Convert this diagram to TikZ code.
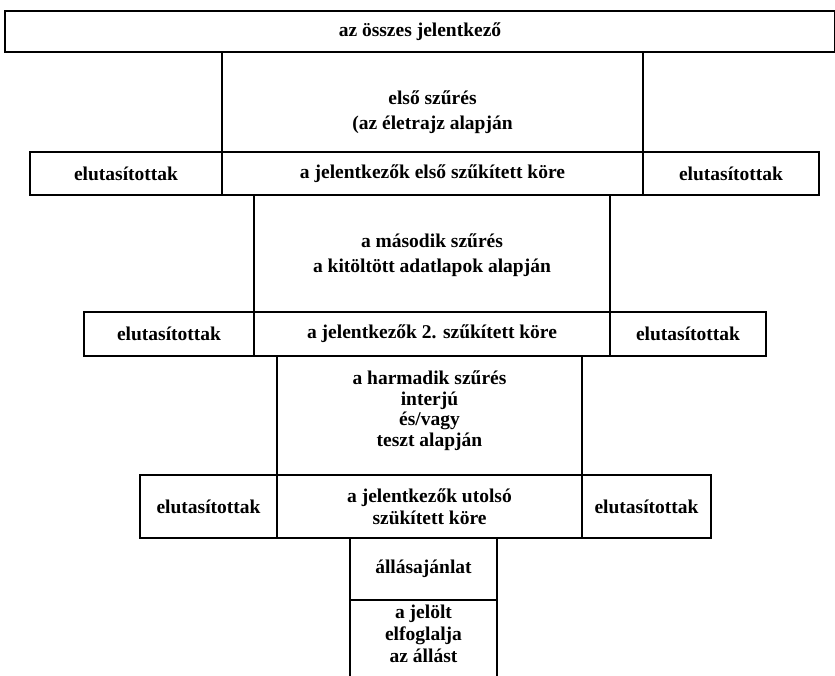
\documentclass[tikz,border=0pt]{standalone}
\usepackage{fontspec}
\setmainfont{Liberation Serif}
\begin{document}
\begin{tikzpicture}[x=1pt,y=-1pt,
  every node/.style={font=\bfseries\fontsize{19.5}{22}\selectfont, align=center, inner sep=0pt, outer sep=0pt},
  boxx/.style={draw, line width=1.3pt, rectangle},
  wide/.style={font=\bfseries\fontsize{19.5}{25}\selectfont},
  tight/.style={font=\bfseries\fontsize{19.5}{20.5}\selectfont},
  lin/.style={line width=1.1pt}]
\useasboundingbox (0,0) rectangle (835,676);
\coordinate (bot) at (0,676);
% top
\node[boxx, minimum width=830, minimum height=41] (all) at (420,31.5) {az összes jelentkező};
% row 1
\node[boxx, minimum width=192, minimum height=43] (r1l) at (126,173.5) {elutasítottak};
\node[boxx, minimum width=421, minimum height=43] (r1c) at (432.5,173.5) {a jelentkezők első szűkített köre};
\node[boxx, minimum width=176, minimum height=43] (r1r) at (731,173.5) {elutasítottak};
\node[wide] (f1) at (432.5,112.5) {első szűrés\\(az életrajz alapján};
\draw[lin] (r1c.north west) -- (r1c.north west |- all.south);
\draw[lin] (r1c.north east) -- (r1c.north east |- all.south);
% row 2
\node[boxx, minimum width=170, minimum height=44] (r2l) at (169,334) {elutasítottak};
\node[boxx, minimum width=356, minimum height=44] (r2c) at (432,334) {a jelentkezők 2. szűkített köre};
\node[boxx, minimum width=156, minimum height=44] (r2r) at (688,334) {elutasítottak};
\node[wide] (f2) at (432,255.5) {a második szűrés\\a kitöltött adatlapok alapján};
\draw[lin] (r2c.north west) -- (r2c.north west |- r1c.south);
\draw[lin] (r2c.north east) -- (r2c.north east |- r1c.south);
% row 3
\node[boxx, minimum width=137, minimum height=63] (r3l) at (208.5,506.5) {elutasítottak};
\node[boxx, minimum width=305, minimum height=63] (r3c) at (429.5,506.5) {a jelentkezők utolsó\\szükített köre};
\node[boxx, minimum width=129, minimum height=63] (r3r) at (646.5,506.5) {elutasítottak};
\node[tight] (f3) at (429.5,410.5) {a harmadik szűrés\\interjú\\és/vagy\\teszt alapján};
\draw[lin] (r3c.north west) -- (r3c.north west |- r2c.south);
\draw[lin] (r3c.north east) -- (r3c.north east |- r2c.south);
% offer
\node[boxx, minimum width=147, minimum height=62] (offer) at (423.5,569) {állásajánlat};
\node[minimum width=147, minimum height=68] (job) at (423.5,634) {a jelölt\\elfoglalja\\az állást};
\draw[boxx] (job.north west |- bot) -- (job.north west) -- (job.north east) -- (job.north east |- bot);
\end{tikzpicture}
\end{document}
